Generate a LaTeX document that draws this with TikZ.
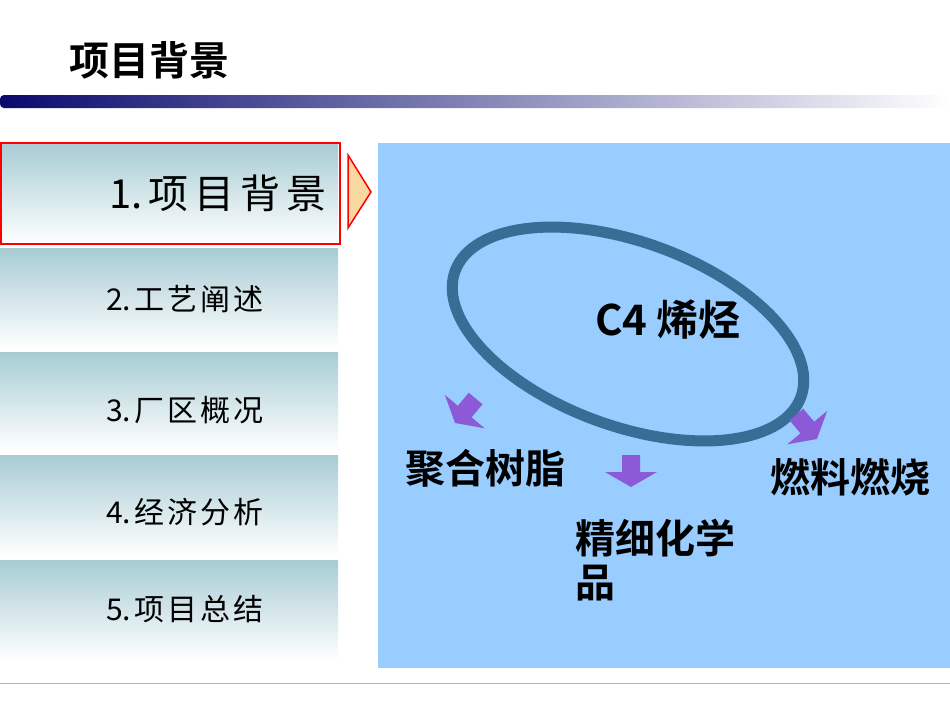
\documentclass[tikz,border=0pt]{standalone}
\usepackage{fontspec}
\newfontfamily\cjk{Noto Sans CJK SC}
\newfontfamily\cjkb{Noto Sans CJK SC Bold}
\definecolor{menutop}{RGB}{168,204,212}
\definecolor{navy}{RGB}{10,10,110}
\definecolor{panel}{RGB}{153,204,255}
\definecolor{ring}{RGB}{55,110,150}
\definecolor{purp}{RGB}{140,90,215}
\definecolor{tri}{RGB}{248,215,160}
\begin{document}
\begin{tikzpicture}[x=1pt,y=-1pt,
  menu/.style={draw=none,top color=menutop,bottom color=white,minimum width=338pt,inner sep=0pt,anchor=north west},
  mtxt/.style={font=\cjk\fontsize{30}{30}\selectfont},
  lbl/.style={font=\cjkb\fontsize{40}{44}\selectfont,text=black},
  parr/.style={fill=purp,draw=none}]
\useasboundingbox (0,0) rectangle (950,713);
\fill[white] (0,0) rectangle (950,713);
\node[font=\cjkb\fontsize{40}{40}\selectfont,anchor=west] (title) at (66,60) {项目背景};
\shade[left color=navy,right color=white,rounded corners=4pt] (0,95) rectangle (950,108);
\node[menu,minimum height=101pt] (m1) at (0,143) {};
\node[menu,minimum height=100pt] (m2) at (0,248) {};
\node[menu,minimum height=98pt] (m3) at (0,352) {};
\node[menu,minimum height=100pt] (m4) at (0,455) {};
\node[menu,minimum height=100pt] (m5) at (0,560) {};
\draw[red,line width=2pt] (1,143) rectangle (340,244);
\node[font=\cjk\fontsize{40}{40}\selectfont,anchor=east] at (330,193) {1.\hspace{6pt}项\hspace{6pt}目\hspace{6pt}背\hspace{6pt}景};
\node[mtxt] at (185,299) {2.\hspace{4pt}工\hspace{3pt}艺\hspace{3pt}阐\hspace{3pt}述};
\node[mtxt] at (185,410) {3.\hspace{4pt}厂\hspace{3pt}区\hspace{3pt}概\hspace{3pt}况};
\node[mtxt] at (185,512) {4.\hspace{4pt}经\hspace{3pt}济\hspace{3pt}分\hspace{3pt}析};
\node[mtxt] at (185,609) {5.\hspace{4pt}项\hspace{3pt}目\hspace{3pt}总\hspace{3pt}结};
\draw[red,line width=1.5pt,fill=tri] (348,155) -- (371,192) -- (348,228) -- cycle;
\fill[panel] (378,143) rectangle (950,668);
\draw[gray!60] (0,683) -- (950,683);
\draw[ring,line width=11pt] (628,334) ellipse[x radius=184,y radius=92,rotate=-20];
\node[lbl,font=\cjkb\fontsize{42}{42}\selectfont] (c4) at (668,320) {C4 烯烃};
\node[lbl] (p1) at (485,468) {聚合树脂};
\node[lbl,align=left,anchor=north west] (p2) at (572,516) {精细化学\\品};
\node[lbl] (p3) at (850,477) {燃料燃烧};
\foreach \cx/\cy/\a in {631/470/0, 466/410/-40, 806/426/40}{
  \begin{scope}[shift={(\cx,\cy)},rotate=\a]
  \fill[parr] (-9,-15) -- (9,-15) -- (9,2) -- (26,2) -- (0,17) -- (-26,2) -- (-9,2) -- cycle;
  \end{scope}}
\end{tikzpicture}
\end{document}
